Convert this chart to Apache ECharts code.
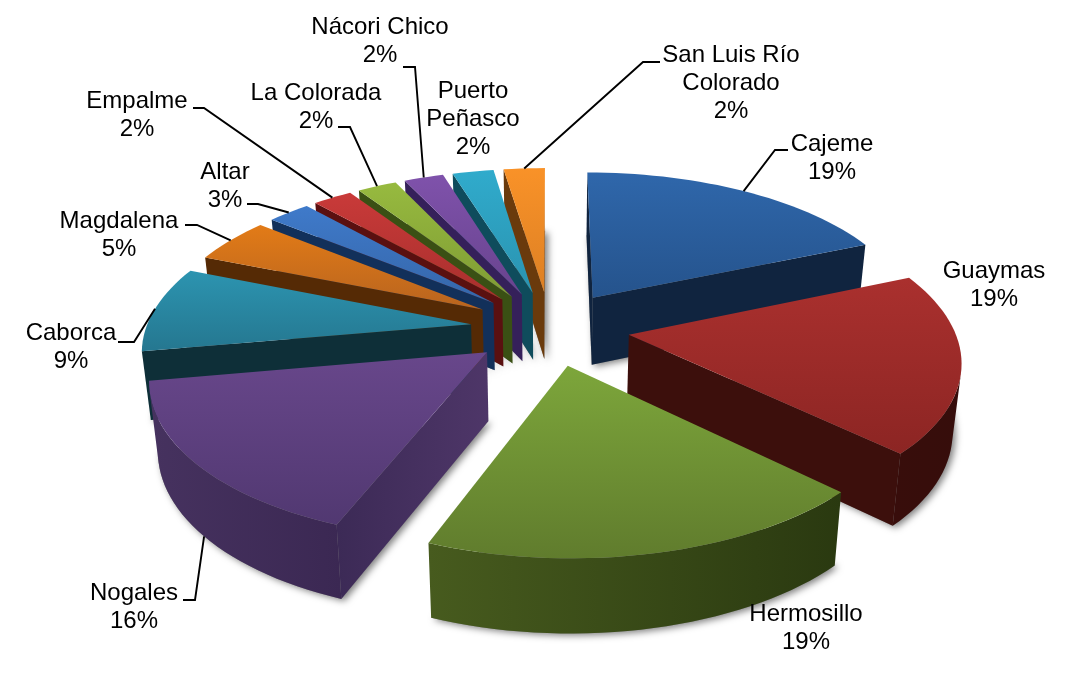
<!DOCTYPE html>
<html><head><meta charset="utf-8">
<style>html,body{margin:0;padding:0;background:#fff}#c{width:1069px;height:683px}</style>
<script src="https://cdn.jsdelivr.net/npm/echarts@6/dist/echarts.min.js"></script>
</head><body><div id="c"></div>
<script>
const names = ['Cajeme','Guaymas','Hermosillo','Nogales','Caborca','Magdalena','Altar','Empalme','La Colorada','Nácori Chico','Puerto\nPeñasco','San Luis Río\nColorado'];
const shares = [18.6,18.6,18.7,16.3,8.9,4.7,2.5,2.3,2.3,2.3,2.4,2.4];
const topLight = ['#2f67ab','#aa302e','#7da63b','#68478b','#2c94b0','#e27b17','#3f7aca','#c93a39','#97ba3f','#7f52ab','#30abcc','#f99228'];
const topDark  = ['#25538c','#8c2523','#607c2d','#513871','#257790','#b8641f','#3566a9','#a82f2d','#7f9c34','#68438e','#2a93b0','#dd8024'];
const faceLeft  = ['#10243f','#3c0f0c','#3d4f18','#3c2a56','#0e2f38','#552a05','#12305a','#5a1010','#3a5014','#35205a','#0f4c5c','#6a3a0c'];
const faceRight = ['#10243f','#3c0f0c','#3d4f18','#4e3668','#0e2f38','#552a05','#12305a','#5a1010','#3a5014','#35205a','#0f4c5c','#6a3a0c'];
const rimLeft   = ['#0e2038','#380d0b','#475b1e','#46325f','#0e2f38','#552a05','#12305a','#5a1010','#3a5014','#35205a','#0f4c5c','#6a3a0c'];
const rimRight  = ['#0e2038','#360d0b','#2a3910','#3b2853','#0e2f38','#552a05','#12305a','#5a1010','#3a5014','#35205a','#0f4c5c','#6a3a0c'];

// Page layout of the labels: text centre and leader-line start/elbow
const labelCentre = [[832,158],[994,285],[806,628],[134,607],[71,347],[119,235],[225,186],[137,115],[316,107],[380,41],[473,119],[731,83]];
const leaderStart = [[788,150],null,null,[183,600],[118,342],[185,225],[247,204],[193,108],[338,127],[403,67],null,[660,62]];
const leaderElbow = [[775,150],null,null,[195,600],[134,342],[197,225],[258,204],[204,108],[350,127],[415,67],null,[643,62]];
const leaderOnBase = [false,false,false,true,false,false,false,false,false,false,false,false];

// Projection of the tilted, exploded pie
const CX=550, CY=328, AX=325, AY=152, PERSP=0.147, EXPLODE=0.245, DEPTH=68, TAPER=0.978, STEP=Math.PI/90;
const total = shares.reduce((a,b)=>a+b,0);
function project(x,y,low){
  const s = 1/(1+PERSP*y);
  const px = AX*x*s;
  return low ? [CX+px*TAPER, CY-AY*y*s+DEPTH*Math.sqrt(s)] : [CX+px, CY-AY*y*s];
}
function sliceGeom(i){
  let before=0; for(let j=0;j<i;j++) before+=shares[j];
  const a0=before/total*2*Math.PI, a1=(before+shares[i])/total*2*Math.PI, mid=(a0+a1)/2;
  const ox=EXPLODE*Math.sin(mid), oy=EXPLODE*Math.cos(mid);
  const at=a=>[ox+Math.sin(a),oy+Math.cos(a)];
  const n=Math.max(2,Math.ceil((a1-a0)/STEP));
  const arc=[]; for(let k=0;k<=n;k++) arc.push(at(a0+(a1-a0)*k/n));
  return {a0,a1,mid,apex:[ox,oy],arc,at};
}
function visible(A,B){
  const q=[project(A[0],A[1]),project(B[0],B[1]),project(B[0],B[1],true),project(A[0],A[1],true)];
  let s=0; for(let i=0;i<4;i++){const p=q[i],r=q[(i+1)%4]; s+=p[0]*r[1]-r[0]*p[1];}
  return s<0;
}
function hGrad(a,b){return new echarts.graphic.LinearGradient(0,0,1,0,[{offset:0,color:a},{offset:1,color:b}]);}
function renderItem(params){
  const i=params.dataIndex, g=sliceGeom(i), ch=[];
  const rank=Math.round(500*(1-Math.cos(g.mid)))+10;
  const contour=[g.apex].concat(g.arc);
  // soft ground shadow, beneath every slice
  ch.push({type:'polygon',z2:0,shape:{points:contour.map(p=>project(p[0],p[1],true))},
    style:{fill:'#888',shadowBlur:7,shadowColor:'rgba(0,0,0,0.5)',shadowOffsetX:3,shadowOffsetY:2}});
  // radial faces
  [[g.apex,g.arc[0]],[g.arc[g.arc.length-1],g.apex]].forEach(e=>{
    if(visible(e[0],e[1])){
      ch.push({type:'polygon',z2:rank,shape:{points:[project(e[0][0],e[0][1]),project(e[1][0],e[1][1]),project(e[1][0],e[1][1],true),project(e[0][0],e[0][1],true)]},
        style:{fill:hGrad(faceLeft[i],faceRight[i])}});
    }
  });
  // outer wall
  const up=[],dn=[];
  for(let k=0;k<g.arc.length-1;k++){
    if(visible(g.arc[k],g.arc[k+1])){
      if(!up.length){up.push(project(g.arc[k][0],g.arc[k][1]));dn.push(project(g.arc[k][0],g.arc[k][1],true));}
      up.push(project(g.arc[k+1][0],g.arc[k+1][1]));dn.push(project(g.arc[k+1][0],g.arc[k+1][1],true));
    }
  }
  if(up.length){
    ch.push({type:'polygon',z2:rank+1,shape:{points:up.concat(dn.reverse())},style:{fill:hGrad(rimLeft[i],rimRight[i])}});
  }
  // top surface
  ch.push({type:'polygon',z2:rank+2,shape:{points:contour.map(p=>project(p[0],p[1]))},
    style:{fill:new echarts.graphic.LinearGradient(0,0,0,1,[{offset:0,color:topLight[i]},{offset:1,color:topDark[i]}])}});
  // leader
  if(leaderStart[i]){
    const m=g.at(g.mid);
    ch.push({type:'polyline',z2:2000,shape:{points:[leaderStart[i],leaderElbow[i],project(m[0],m[1],leaderOnBase[i])]},
      style:{fill:null,stroke:'#000',lineWidth:1.9}});
  }
  // label
  ch.push({type:'text',z2:2001,style:{text:names[i]+'\n'+Math.round(shares[i])+'%',x:labelCentre[i][0],y:labelCentre[i][1],
    align:'center',verticalAlign:'middle',font:'24px "Liberation Sans"',lineHeight:28,fill:'#000'}});
  return {type:'group',children:ch};
}
const chart=echarts.init(document.getElementById('c'),null,{renderer:'canvas'});
chart.setOption({animation:false,backgroundColor:'#fff',
  series:[{type:'custom',coordinateSystem:'none',renderItem,data:shares.map((v,i)=>({name:names[i],value:v})),silent:true}]});
</script></body></html>
